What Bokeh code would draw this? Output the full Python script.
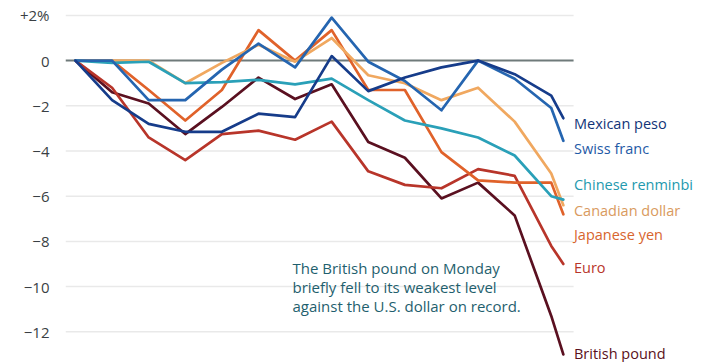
from bokeh.plotting import figure
from bokeh.models import Range1d, Label, FixedTicker
from bokeh.embed import file_html
from bokeh.resources import INLINE

# ---- data (percent change vs. U.S. dollar) ----
x_idx = [0, 1, 2, 3, 4, 5, 6, 7, 8, 9, 10, 11, 12, 13, 13.33]

british_pound = [0, -1.4, -1.9, -3.25, -2.05, -0.75, -1.7, -1.05, -3.6, -4.3, -6.1, -5.4, -6.85, -11.3, -13.0]
euro = [0, -1.2, -3.4, -4.4, -3.25, -3.1, -3.5, -2.7, -4.9, -5.5, -5.65, -4.8, -5.1, -8.2, -9.0]
japanese_yen = [0, 0, -1.3, -2.65, -1.3, 1.35, 0.0, 1.35, -1.3, -1.3, -4.05, -5.3, -5.4, -5.4, -6.8]
canadian_dollar = [0, 0, 0, -1.0, -0.1, 0.7, -0.05, 1.0, -0.65, -1.0, -1.75, -1.2, -2.7, -5.0, -6.4]
chinese_renminbi = [0, -0.1, -0.05, -1.0, -0.95, -0.85, -1.05, -0.8, -1.75, -2.65, -3.0, -3.4, -4.2, -6.0, -6.15]
swiss_franc = [0, 0, -1.75, -1.75, -0.4, 0.75, -0.3, 1.9, -0.05, -0.9, -2.2, 0, -0.8, -2.1, -3.55]
mexican_peso = [0, -1.75, -2.8, -3.15, -3.15, -2.35, -2.5, 0.2, -1.35, -0.75, -0.3, 0, -0.6, -1.55, -2.55]

series_names = ["British pound", "Euro", "Japanese yen", "Canadian dollar",
                "Chinese renminbi", "Swiss franc", "Mexican peso"]
series_values = [british_pound, euro, japanese_yen, canadian_dollar,
                 chinese_renminbi, swiss_franc, mexican_peso]
series_colors = ["#5a1020", "#b8352a", "#e0622a", "#f0a860",
                 "#2aa0b8", "#2565b0", "#163c8a"]
label_colors = ["#5a1020", "#b8352a", "#d8652e", "#d99a5e",
                "#2399ae", "#1f5aa6", "#123478"]

y_ticks = [2, 0, -2, -4, -6, -8, -10, -12]
y_tick_labels = ["+2%", "0", "\u22122", "\u22124", "\u22126", "\u22128", "\u221210", "\u221212"]

annotation_lines = ["The British pound on Monday",
                    "briefly fell to its weakest level",
                    "against the U.S. dollar on record."]

# ---- layout constants ----
X_START, X_END = -0.273, 17.57      # frame spans the canvas right of the axis
GRID_END = 13.61                    # gridlines stop before the series labels

p = figure(width=718, height=362, output_backend="svg", toolbar_location=None,
           x_range=Range1d(X_START, X_END), y_range=Range1d(-13.36, 2.66),
           min_border_left=65, min_border_right=0, min_border_top=0, min_border_bottom=0)
p.xaxis.visible = False
p.xgrid.visible = False
p.ygrid.visible = False
p.outline_line_color = None
p.background_fill_color = "white"
p.border_fill_color = "white"

ya = p.yaxis[0]
ya.ticker = FixedTicker(ticks=y_ticks)
ya.major_label_overrides = {t: l for t, l in zip(y_ticks, y_tick_labels)}
ya.axis_line_color = None
ya.major_tick_line_color = None
ya.minor_tick_line_color = None
ya.major_label_standoff = 10
ya.major_label_text_font = "Open Sans"
ya.major_label_text_font_size = "15px"
ya.major_label_text_color = "#3a3f44"

# horizontal gridlines limited in width
grid_ticks = [t for t in y_ticks if t != 0]
p.segment(x0=[X_START] * len(grid_ticks), x1=[GRID_END] * len(grid_ticks),
          y0=grid_ticks, y1=grid_ticks, line_color="#e9e9e9", line_width=1.5)
p.segment(x0=[X_START], x1=[GRID_END], y0=[0], y1=[0], line_color="#6f7a7a", line_width=2)

for name, vals, col in zip(series_names, series_values, series_colors):
    p.line(x_idx, vals, line_color=col, line_width=2.7, line_join="round", line_cap="round")

# series labels (label y placement in data units, spread to avoid overlap)
label_y = [-12.95, -9.15, -7.7, -6.65, -5.5, -3.9, -2.8]
for name, col, ly in zip(series_names, label_colors, label_y):
    p.add_layout(Label(x=13.62, y=ly, text=name, text_color=col, text_font="Open Sans",
                       text_font_size="14.5px", text_baseline="middle"))

ann_y = [-9.2, -10.04, -10.88]
for t, ay in zip(annotation_lines, ann_y):
    p.add_layout(Label(x=5.93, y=ay, text=t, text_color="#1f5f6e", text_font="Open Sans",
                       text_font_size="15px", text_baseline="middle"))

open("out.html", "w").write(file_html(p, INLINE))
